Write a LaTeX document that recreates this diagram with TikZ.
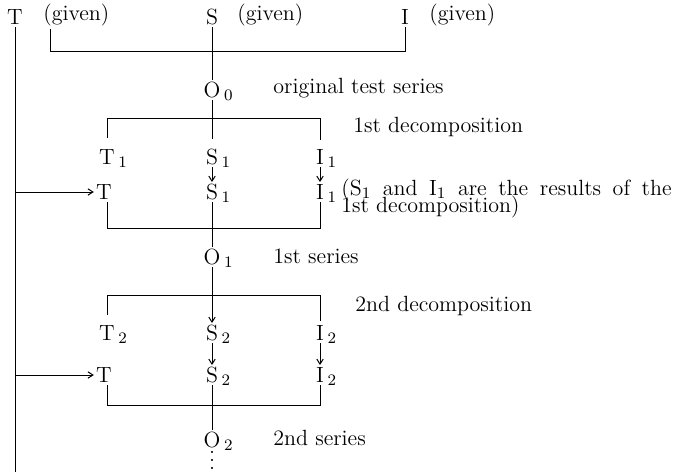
\documentclass[tikz,border=0pt]{standalone}
\usetikzlibrary{arrows.meta}
\newcommand{\sub}[1]{\rlap{\,$_{#1}$}}
\newcommand{\vdotcol}{\vbox{\baselineskip=4pt\lineskiplimit=0pt\hbox{.}\hbox{.}\hbox{.}}}
\newcommand{\widespaces}{\spaceskip=5.8pt plus 1pt\relax}
\begin{document}
\begin{tikzpicture}[x=0.5pt,y=-0.5pt,
  every node/.style={inner sep=1.5pt, font=\fontsize{11}{13}\selectfont},
  sym/.style={inner sep=1pt, text height=7.6pt, text depth=0pt},
  lbl/.style={anchor=west},
  link/.style={line width=0.5pt},
  feed/.style={line width=0.5pt,-{Straight Barb[length=2.5pt,width=3.2pt]}}]
\useasboundingbox (0,0) rectangle (683,472);

% given components
\node[sym] (T) at (15,17) {T};
\node[lbl] (gT) at (40,15) {(given)};
\node[sym] (S) at (212,17) {S};
\node[lbl] (gS) at (234,15) {(given)};
\node[sym] (I) at (405,17) {I};
\node[lbl] (gI) at (426,15) {(given)};

% junction points of the bars
\coordinate (aL) at (50,51);
\coordinate (aR) at (405,51);
\coordinate (bL) at (107,118);
\coordinate (bR) at (320,118);
\coordinate (cL) at (107,228);
\coordinate (cR) at (320,228);
\coordinate (dL) at (107,295);
\coordinate (dR) at (320,295);
\coordinate (eL) at (107,405);
\coordinate (eR) at (320,405);
\coordinate (tail) at (15,472);

% series
\node[sym] (O0) at (212,90) {O\sub{0}};
\node[lbl] (l0) at (270,88) {original test series};
\node[sym] (O1) at (212,257) {O\sub{1}};
\node[lbl] (l1) at (270,256) {1st series};
\node[sym] (O2) at (212,440) {O\sub{2}};
\node[lbl] (l2) at (270,438) {2nd series};
\node[anchor=north, inner sep=0pt] (dots) at (212,451) {\vdotcol};

% first decomposition
\node[sym] (T1) at (107,157) {T\sub{1}};
\node[sym] (S1a) at (212,157) {S\sub{1}};
\node[sym] (I1a) at (320,157) {I\sub{1}};
\node[sym] (Tb1) at (104,192) {T};
\node[sym] (S1b) at (212,192) {S\sub{1}};
\node[sym] (I1b) at (320,192) {I\sub{1}};
\node[lbl] (d1) at (350,127) {1st decomposition};
\node[lbl] (n1) at (338,190) {\widespaces(S$_1$ and I$_1$ are the results of the};
\node[lbl] (n2) at (338,207) {1st decomposition)};

% second decomposition
\node[sym] (T2) at (107,333) {T\sub{2}};
\node[sym] (S2a) at (212,333) {S\sub{2}};
\node[sym] (I2a) at (320,333) {I\sub{2}};
\node[sym] (Tb2) at (104,375) {T};
\node[sym] (S2b) at (212,375) {S\sub{2}};
\node[sym] (I2b) at (320,375) {I\sub{2}};
\node[lbl] (d2) at (352,306) {2nd decomposition};

% top bar
\draw[link] (aL |- gT.south) -- (aL) -- (aR) -- (I);
\draw[link] (S) -- (O0);
\draw[link] (T) -- (tail);

% first block
\draw[link,shorten >=4pt] (O0) -- (S1a);
\draw[link] (bL |- T1.north) ++(0,-9) -- (bL) -- (bR) -- ++(0,22);
\draw[feed] (S1a) -- (S1b);
\draw[feed] (I1a) -- (I1b);
\draw[feed] (T |- Tb1) -- (Tb1);
\draw[link] (cL |- Tb1.south) -- (cL) -- (cR) -- (I1b);
\draw[link] (S1b) -- (O1);

% second block
\draw[feed] (O1) -- (S2a);
\draw[link] (dL |- T2.north) ++(0,-8) -- (dL) -- (dR) -- ++(0,26);
\draw[feed] (S2a) -- (S2b);
\draw[feed] (I2a) -- (I2b);
\draw[feed] (T |- Tb2) -- (Tb2);
\draw[link] (eL |- Tb2.south) -- (eL) -- (eR) -- (I2b);
\draw[link] (S2b) -- (O2);
\end{tikzpicture}
\end{document}
